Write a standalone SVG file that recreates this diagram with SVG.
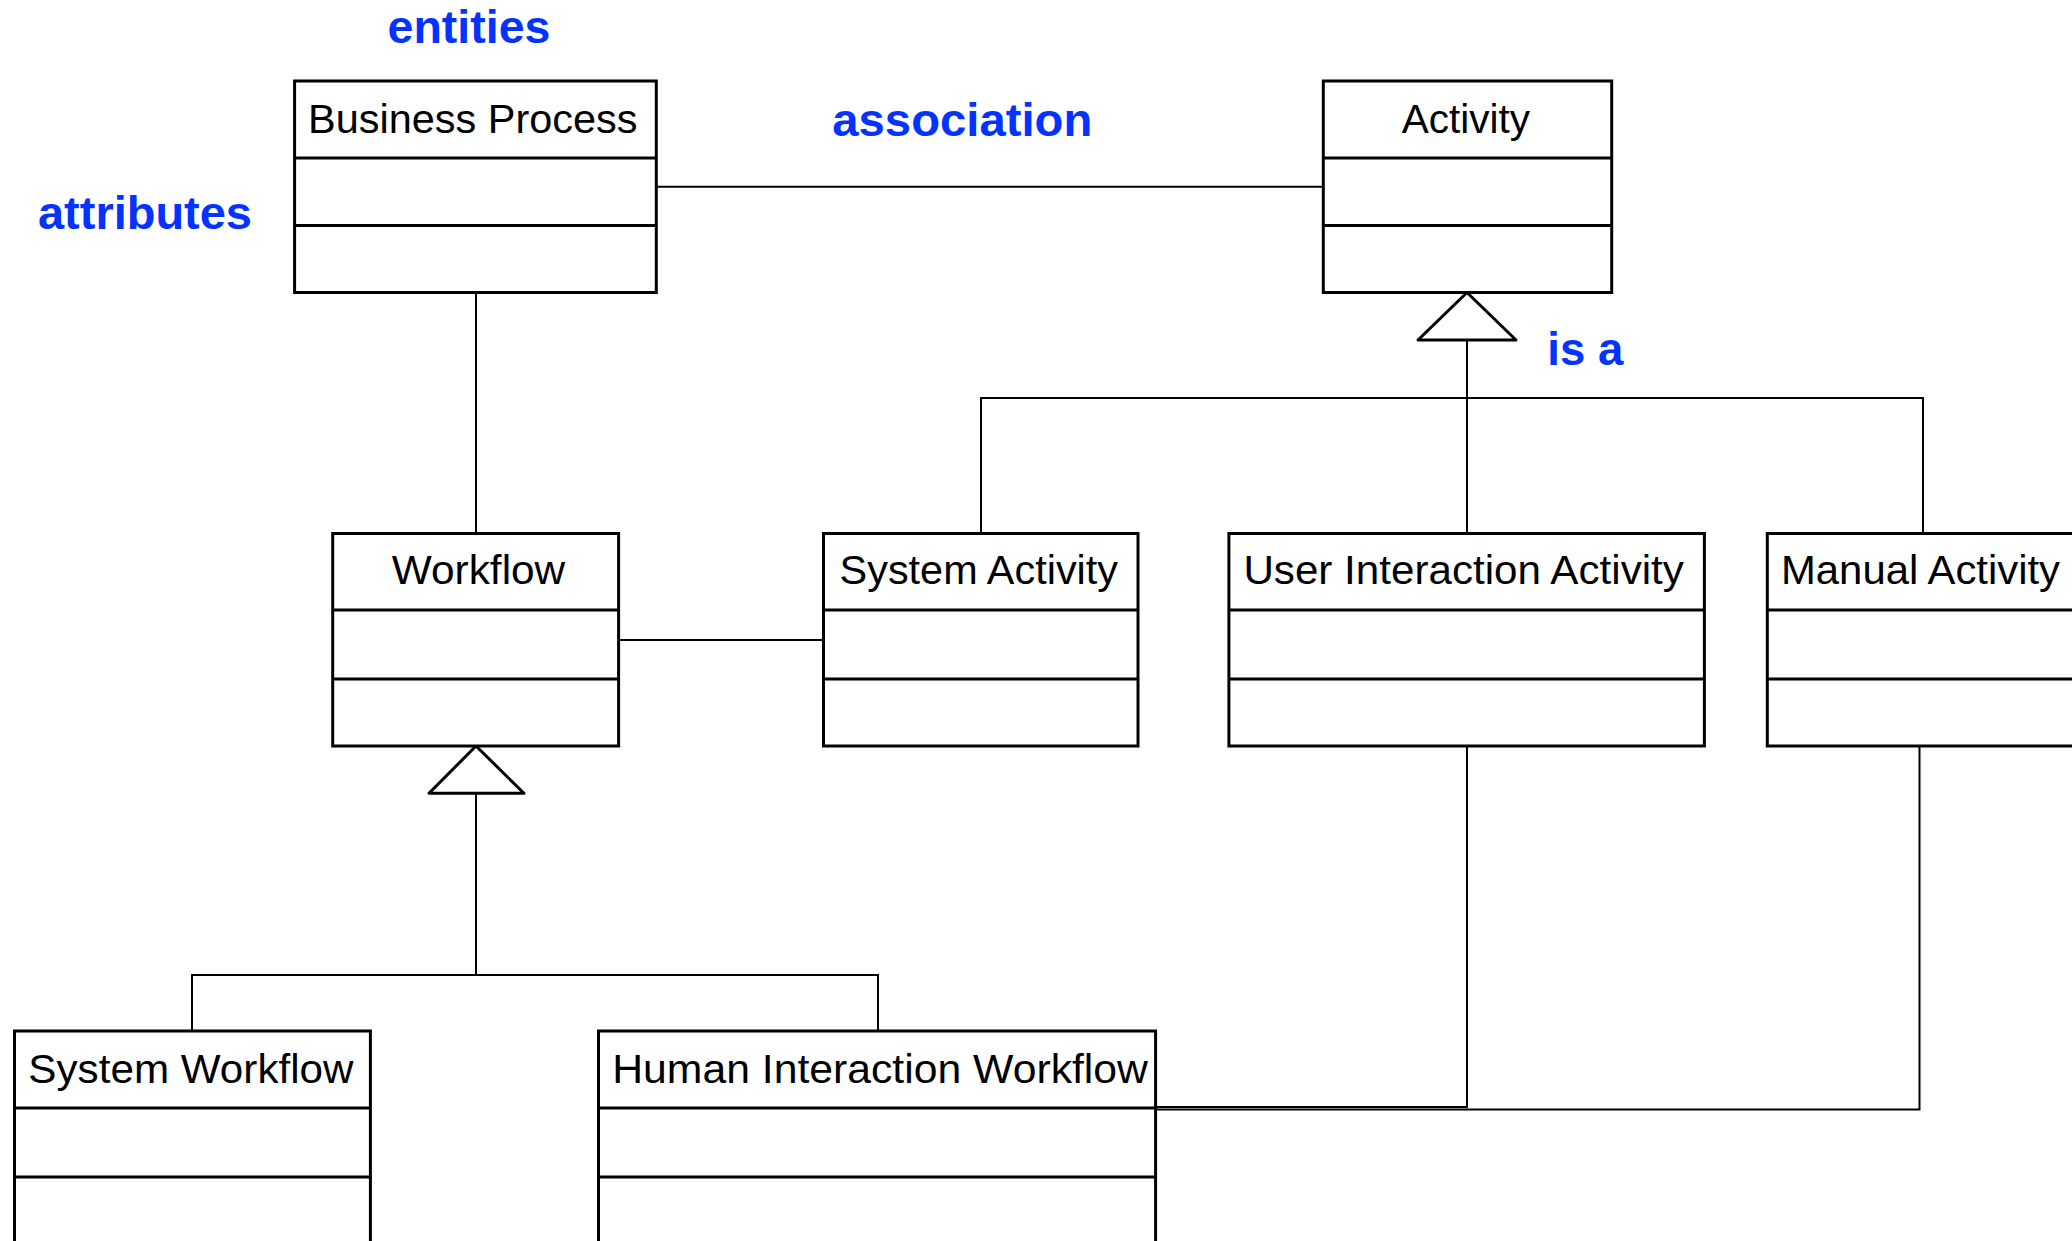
<svg xmlns="http://www.w3.org/2000/svg" width="2072" height="1241" viewBox="0 0 2072 1241">
  <style>
    .box { fill: #ffffff; stroke: #000000; stroke-width: 3; }
    .div { stroke: #000000; stroke-width: 3; fill: none; }
    .name { font-family: "Liberation Sans", Arial, sans-serif; font-size: 41px; fill: #000000; }
    .lbl { font-family: "Liberation Sans", Arial, sans-serif; font-size: 46px; font-weight: bold; fill: #0433ff; }
    .conn { stroke: #000000; stroke-width: 2; fill: none; }
    .gen { fill: #ffffff; stroke: #000000; stroke-width: 3; stroke-linejoin: round; }
  </style>
  <rect width="2072" height="1241" fill="#ffffff"/>

  <g id="connectors">
    <line class="conn" x1="656" y1="186.7" x2="1323" y2="186.7"/>
    <line class="conn" x1="476" y1="292.5" x2="476" y2="533.5"/>
    <line class="conn" x1="618.6" y1="640" x2="823.5" y2="640"/>
    <line class="conn" x1="1467" y1="340" x2="1467" y2="398"/>
    <polyline class="conn" points="981,533.5 981,398 1923,398 1923,533.5"/>
    <line class="conn" x1="1467" y1="398" x2="1467" y2="533.5"/>
    <polygon class="gen" points="1467,292.5 1418,340 1516,340"/>
    <line class="conn" x1="476" y1="793.3" x2="476" y2="975"/>
    <polyline class="conn" points="192,1031 192,975 878,975 878,1031"/>
    <polygon class="gen" points="476,746 429,793.3 524,793.3"/>
    <polyline class="conn" points="1467,746 1467,1107 1156,1107"/>
    <polyline class="conn" points="1919.5,739 1919.5,1109.5 1156,1109.5"/>
  </g>

  <g id="business-process">
    <rect class="box" x="294.6" y="81" width="361.7" height="211.5"/>
    <line class="div" x1="294.6" y1="158" x2="656.3" y2="158"/>
    <line class="div" x1="294.6" y1="225.5" x2="656.3" y2="225.5"/>
    <text class="name" x="308" y="133" textLength="329.5" lengthAdjust="spacingAndGlyphs">Business Process</text>
  </g>

  <g id="activity">
    <rect class="box" x="1323.3" y="81" width="288.4" height="211.5"/>
    <line class="div" x1="1323.3" y1="158" x2="1611.7" y2="158"/>
    <line class="div" x1="1323.3" y1="225.5" x2="1611.7" y2="225.5"/>
    <text class="name" x="1401.7" y="133" textLength="128.3" lengthAdjust="spacingAndGlyphs">Activity</text>
  </g>

  <g id="workflow">
    <rect class="box" x="332.7" y="533.5" width="285.9" height="212.5"/>
    <line class="div" x1="332.7" y1="610" x2="618.6" y2="610"/>
    <line class="div" x1="332.7" y1="679" x2="618.6" y2="679"/>
    <text class="name" x="391.8" y="583.5" textLength="173.4" lengthAdjust="spacingAndGlyphs">Workflow</text>
  </g>

  <g id="system-activity">
    <rect class="box" x="823.5" y="533.5" width="314.5" height="212.5"/>
    <line class="div" x1="823.5" y1="610" x2="1138" y2="610"/>
    <line class="div" x1="823.5" y1="679" x2="1138" y2="679"/>
    <text class="name" x="839.6" y="583.5" textLength="278.4" lengthAdjust="spacingAndGlyphs">System Activity</text>
  </g>

  <g id="user-interaction-activity">
    <rect class="box" x="1228.9" y="533.5" width="475.5" height="212.5"/>
    <line class="div" x1="1228.9" y1="610" x2="1704.4" y2="610"/>
    <line class="div" x1="1228.9" y1="679" x2="1704.4" y2="679"/>
    <text class="name" x="1243.4" y="583.5" textLength="440.5" lengthAdjust="spacingAndGlyphs">User Interaction Activity</text>
  </g>

  <g id="manual-activity">
    <rect class="box" x="1767.3" y="533.5" width="330" height="212.5"/>
    <line class="div" x1="1767.3" y1="610" x2="2097.3" y2="610"/>
    <line class="div" x1="1767.3" y1="679" x2="2097.3" y2="679"/>
    <text class="name" x="1781" y="583.5" textLength="279" lengthAdjust="spacingAndGlyphs">Manual Activity</text>
  </g>

  <g id="system-workflow">
    <rect class="box" x="14.5" y="1031" width="355.9" height="240"/>
    <line class="div" x1="14.5" y1="1108" x2="370.4" y2="1108"/>
    <line class="div" x1="14.5" y1="1177" x2="370.4" y2="1177"/>
    <text class="name" x="28.3" y="1083" textLength="325.3" lengthAdjust="spacingAndGlyphs">System Workflow</text>
  </g>

  <g id="human-interaction-workflow">
    <rect class="box" x="598.5" y="1031" width="557.1" height="240"/>
    <line class="div" x1="598.5" y1="1108" x2="1155.6" y2="1108"/>
    <line class="div" x1="598.5" y1="1177" x2="1155.6" y2="1177"/>
    <text class="name" x="612.2" y="1083" textLength="535.8" lengthAdjust="spacingAndGlyphs">Human Interaction Workflow</text>
  </g>

  <g id="labels">
    <text class="lbl" x="387.5" y="43.3" textLength="163" lengthAdjust="spacingAndGlyphs">entities</text>
    <text class="lbl" x="832.3" y="136" textLength="260" lengthAdjust="spacingAndGlyphs">association</text>
    <text class="lbl" x="38" y="229.3" textLength="214" lengthAdjust="spacingAndGlyphs">attributes</text>
    <text class="lbl" x="1547.3" y="365" textLength="76" lengthAdjust="spacingAndGlyphs">is a</text>
  </g>
</svg>
